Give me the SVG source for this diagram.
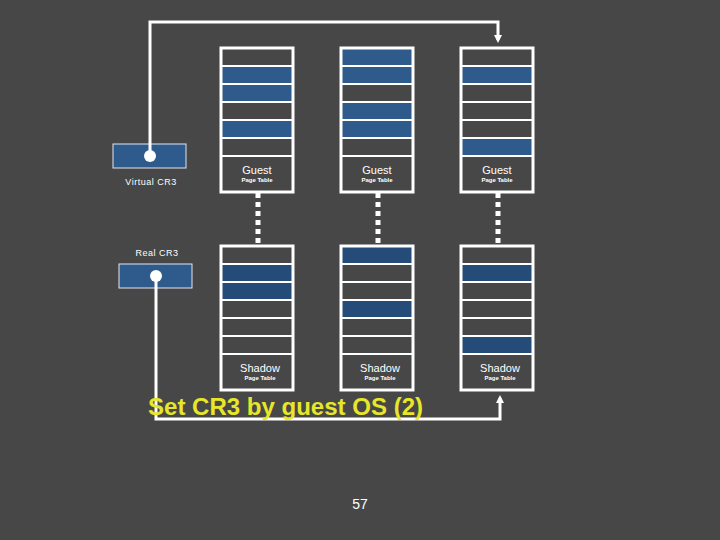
<svg xmlns="http://www.w3.org/2000/svg" width="720" height="540" viewBox="0 0 720 540">
<style>
.frame{fill:none;stroke:#ffffff;stroke-width:3}
.row{fill:none;stroke:#ffffff;stroke-width:2}
.gb{fill:#2f5b8c}
.sb{fill:#254b78}
.wire{fill:none;stroke:#ffffff;stroke-width:3}
.dots{stroke:#ffffff;stroke-width:5;stroke-dasharray:5 4}
.big{font-family:"Liberation Sans",Arial,sans-serif;font-size:11px;fill:#ffffff;text-anchor:middle}
.small{font-family:"Liberation Sans",Arial,sans-serif;font-size:6px;font-weight:bold;fill:#ffffff;text-anchor:middle}
.lbl{font-family:"Liberation Sans",Arial,sans-serif;font-size:9px;fill:#ffffff;text-anchor:middle;letter-spacing:0.5px}
.cr3{fill:#2f5b8c;stroke:#dfe8f0;stroke-width:1}
</style>
<defs>
<marker id="ah" markerWidth="8" markerHeight="8" refX="5" refY="4" orient="auto" markerUnits="userSpaceOnUse">
<path d="M0,0 L8,4 L0,8 Z" fill="#ffffff"/>
</marker>
</defs>
<rect width="720" height="540" fill="#474747"/>

<g id="guest1">
<rect class="gb" x="222" y="66" width="70" height="18"/>
<rect class="gb" x="222" y="84" width="70" height="18"/>
<rect class="gb" x="222" y="120" width="70" height="18"/>
<path class="row" d="M222,66H292M222,84H292M222,102H292M222,120H292M222,138H292M222,156H292"/>
<rect class="frame" x="221" y="48" width="72" height="144"/>
<text class="big" x="257" y="174">Guest</text>
<text class="small" x="257" y="182">Page Table</text>
</g>
<g id="guest2">
<rect class="gb" x="342" y="48" width="70" height="18"/>
<rect class="gb" x="342" y="66" width="70" height="18"/>
<rect class="gb" x="342" y="102" width="70" height="18"/>
<rect class="gb" x="342" y="120" width="70" height="18"/>
<path class="row" d="M342,66H412M342,84H412M342,102H412M342,120H412M342,138H412M342,156H412"/>
<rect class="frame" x="341" y="48" width="72" height="144"/>
<text class="big" x="377" y="174">Guest</text>
<text class="small" x="377" y="182">Page Table</text>
</g>
<g id="guest3">
<rect class="gb" x="462" y="66" width="70" height="18"/>
<rect class="gb" x="462" y="138" width="70" height="18"/>
<path class="row" d="M462,66H532M462,84H532M462,102H532M462,120H532M462,138H532M462,156H532"/>
<rect class="frame" x="461" y="48" width="72" height="144"/>
<text class="big" x="497" y="174">Guest</text>
<text class="small" x="497" y="182">Page Table</text>
</g>

<g id="shadow1">
<rect class="sb" x="222" y="264" width="70" height="18"/>
<rect class="sb" x="222" y="282" width="70" height="18"/>
<path class="row" d="M222,264H292M222,282H292M222,300H292M222,318H292M222,336H292M222,354H292"/>
<rect class="frame" x="221" y="246" width="72" height="144"/>
<text class="big" x="260" y="372">Shadow</text>
<text class="small" x="260" y="380">Page Table</text>
</g>
<g id="shadow2">
<rect class="sb" x="342" y="246" width="70" height="18"/>
<rect class="sb" x="342" y="300" width="70" height="18"/>
<path class="row" d="M342,264H412M342,282H412M342,300H412M342,318H412M342,336H412M342,354H412"/>
<rect class="frame" x="341" y="246" width="72" height="144"/>
<text class="big" x="380" y="372">Shadow</text>
<text class="small" x="380" y="380">Page Table</text>
</g>
<g id="shadow3">
<rect class="sb" x="462" y="264" width="70" height="18"/>
<rect class="sb" x="462" y="336" width="70" height="18"/>
<path class="row" d="M462,264H532M462,282H532M462,300H532M462,318H532M462,336H532M462,354H532"/>
<rect class="frame" x="461" y="246" width="72" height="144"/>
<text class="big" x="500" y="372">Shadow</text>
<text class="small" x="500" y="380">Page Table</text>
</g>

<g id="virtualCR3">
<rect class="cr3" x="113" y="144" width="73" height="24"/>
<text class="lbl" x="151" y="185">Virtual CR3</text>
</g>
<g id="realCR3">
<rect class="cr3" x="119" y="264" width="73" height="24"/>
<text class="lbl" x="157" y="256">Real CR3</text>
</g>

<g id="connectors">
<path class="wire" d="M150,156V22H498V40" marker-end="url(#ah)"/>
<circle cx="150" cy="156" r="6" fill="#ffffff"/>
<path class="wire" d="M156,276V419H500V398" marker-end="url(#ah)"/>
<circle cx="156" cy="276" r="6" fill="#ffffff"/>
<line class="dots" x1="258" y1="193" x2="258" y2="243"/>
<line class="dots" x1="378" y1="193" x2="378" y2="243"/>
<line class="dots" x1="498" y1="193" x2="498" y2="243"/>
</g>

<text x="148" y="415" font-family="'Liberation Sans',Arial,sans-serif" font-size="23" font-weight="bold" fill="#e8e628" textLength="275" lengthAdjust="spacingAndGlyphs">Set CR3 by guest OS (2)</text>
<text x="360" y="509" font-family="'Liberation Sans',Arial,sans-serif" font-size="14" fill="#ffffff" text-anchor="middle">57</text>
</svg>
